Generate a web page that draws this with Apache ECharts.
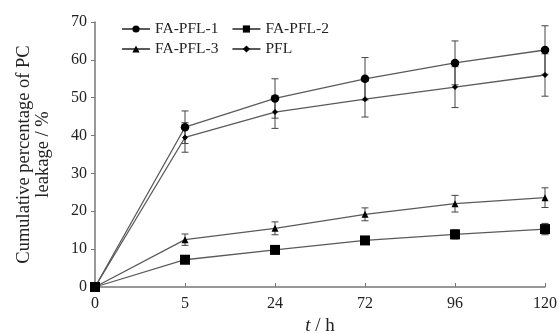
<!DOCTYPE html>
<html><head><meta charset="utf-8">
<script src="https://cdn.jsdelivr.net/npm/echarts@6/dist/echarts.min.js"></script>
<style>html,body{margin:0;padding:0;background:#fff}#c{width:560px;height:334px}</style>
</head><body><div id="c"></div>
<script>
const categories = ['0','5','24','72','96','120'];
const seriesNames = ['FA-PFL-1','FA-PFL-2','FA-PFL-3','PFL'];
const fa1 = [0, 42.2, 49.8, 55.0, 59.2, 62.6];
const fa1Err = [0, 4.3, 5.2, 5.6, 5.8, 6.4];
const fa2 = [0, 7.2, 9.8, 12.3, 13.9, 15.3];
const fa2Err = [0, 0.6, 0.7, 1.0, 1.2, 1.5];
const fa3 = [0, 12.5, 15.5, 19.2, 22.0, 23.6];
const fa3Err = [0, 1.5, 1.7, 1.7, 2.2, 2.6];
const pfl = [0, 39.5, 46.2, 49.6, 52.8, 56.0];
const pflErr = [0, 3.9, 4.3, 4.7, 5.4, 5.6];
const yTicks = [0,10,20,30,40,50,60,70];

const FONT = "'Liberation Serif','Times New Roman',serif";
const LINE = '#5a5a5a';

function errSeries(vals, errs){
  return {
    type:'custom', silent:true, z:1,
    data: vals.map((v,i)=>[i, v-errs[i], v+errs[i]]).filter((d,i)=>errs[i]>0),
    renderItem: function(params, api){
      const lo = api.coord([api.value(0), api.value(1)]);
      const hi = api.coord([api.value(0), api.value(2)]);
      const w = 3.5;
      const st = {stroke:'#444', lineWidth:1};
      return {type:'group', children:[
        {type:'line', shape:{x1:lo[0],y1:lo[1],x2:hi[0],y2:hi[1]}, style:st},
        {type:'line', shape:{x1:lo[0]-w,y1:lo[1],x2:lo[0]+w,y2:lo[1]}, style:st},
        {type:'line', shape:{x1:hi[0]-w,y1:hi[1],x2:hi[0]+w,y2:hi[1]}, style:st}
      ]};
    }
  };
}
function lineSeries(name, vals, symbol, size){
  return {
    name, type:'line', data:vals, symbol, symbolSize:size, z:3,
    lineStyle:{color:LINE, width:1.3},
    itemStyle:{color:'#000'}
  };
}
const legendText = {fontFamily:FONT, fontSize:15.5, color:'#222'};
const chart = echarts.init(document.getElementById('c'), null, {renderer:'canvas'});
chart.setOption({
  animation:false,
  backgroundColor:'#fff',
  textStyle:{fontFamily:FONT},
  grid:{left:95, right:15, top:22, bottom:47, containLabel:false, outerBoundsMode:'none'},
  legend:[
    {data:['FA-PFL-1','FA-PFL-2'], left:116, top:16, itemWidth:28, itemHeight:9, itemGap:13, textStyle:legendText},
    {data:['FA-PFL-3','PFL'], left:116, top:36, itemWidth:28, itemHeight:9, itemGap:13, textStyle:legendText}
  ],
  xAxis:{
    type:'category', data:categories, boundaryGap:false,
    name:'{i|t} / h', nameLocation:'middle', nameGap:28,
    nameTextStyle:{fontFamily:FONT, fontSize:19, color:'#222', rich:{i:{fontStyle:'italic', fontFamily:FONT, fontSize:19, color:'#222'}}},
    axisLine:{lineStyle:{color:'#777', width:1.5}},
    axisTick:{inside:true, length:4, lineStyle:{color:'#777'}},
    axisLabel:{fontFamily:FONT, fontSize:16, color:'#222', margin:9},
    splitLine:{show:false}
  },
  yAxis:{
    type:'value', min:0, max:70, interval:10,
    name:'Cumulative percentage of PC\nleakage / %', nameLocation:'middle', nameGap:42, nameRotate:90,
    nameTextStyle:{fontFamily:FONT, fontSize:18.5, color:'#222', lineHeight:19},
    axisLine:{show:true, lineStyle:{color:'#777', width:1.5}},
    axisTick:{show:true, length:4, lineStyle:{color:'#777'}},
    axisLabel:{fontFamily:FONT, fontSize:16, color:'#222', margin:8},
    splitLine:{show:false}
  },
  series:[
    errSeries(fa1, fa1Err), errSeries(fa2, fa2Err), errSeries(fa3, fa3Err), errSeries(pfl, pflErr),
    lineSeries('FA-PFL-1', fa1, 'circle', 8.5),
    lineSeries('FA-PFL-2', fa2, 'rect', 10),
    lineSeries('FA-PFL-3', fa3, 'triangle', 7),
    lineSeries('PFL', pfl, 'diamond', 6)
  ]
});
</script></body></html>
